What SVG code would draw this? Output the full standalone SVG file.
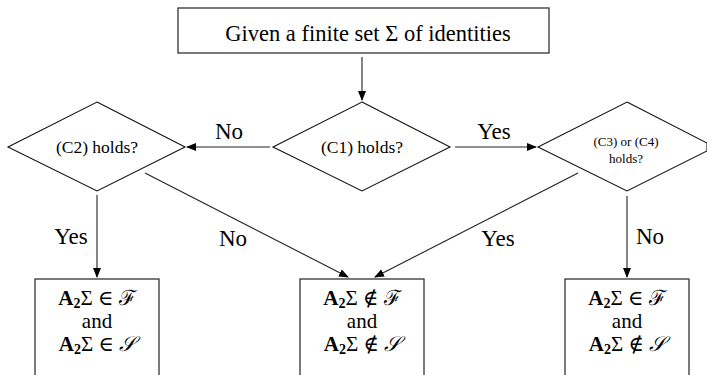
<svg xmlns="http://www.w3.org/2000/svg" width="707" height="375" viewBox="0 0 707 375">
<style>
.box{fill:#fff;stroke:#333;stroke-width:1.3}
.dia{fill:#fff;stroke:#111;stroke-width:1.1}
.conn line{stroke:#222;stroke-width:1.1;marker-end:url(#ah)}
text{font-family:"Liberation Serif","Times New Roman","DejaVu Serif",serif;fill:#000;text-anchor:middle}
.lbl{font-size:23px}
.t{font-size:22.5px}
.d{font-size:17.5px}
.ds{font-size:13px}
.b{font-size:21px}
.sub{font-size:14px;font-weight:bold}
.cal{font-family:"DejaVu Serif","Liberation Serif",serif;font-style:italic}
</style>
<defs>
<marker id="ah" markerWidth="10" markerHeight="8" refX="9" refY="4" orient="auto" markerUnits="userSpaceOnUse">
<path d="M0,0 L10,4 L0,8 Z" fill="#000"/>
</marker>
</defs>
<g id="start">
<rect class="box" x="178" y="8" width="371" height="45"/>
<text class="t" x="368" y="41">Given a finite set Σ of identities</text>
</g>
<g id="c1">
<polygon class="dia" points="362,102 450,147 362,191 273,147"/>
<text class="d" x="362" y="153">(C1) holds?</text>
</g>
<g id="c2">
<polygon class="dia" points="97,102 185,147 97,191 8,147"/>
<text class="d" x="97" y="153">(C2) holds?</text>
</g>
<g id="c3">
<polygon class="dia" points="627,102 707,143 707,151 627,191 538,147"/>
<text class="ds" x="626" y="146"><tspan x="626">(C3) or (C4)</tspan><tspan x="626" dy="17">holds?</tspan></text>
</g>
<g id="r1">
<rect class="box" x="35" y="279" width="124" height="110"/>
<text class="b" x="97" y="305"><tspan font-weight="bold">A</tspan><tspan class="sub" dy="3">2</tspan><tspan dy="-3">Σ ∈ ℱ</tspan><tspan x="97" dy="23">and</tspan><tspan x="97" dy="23" font-weight="bold">A</tspan><tspan class="sub" dy="3">2</tspan><tspan dy="-3">Σ ∈ </tspan><tspan class="cal">𝒮</tspan></text>
</g>
<g id="r2">
<rect class="box" x="300" y="279" width="124" height="110"/>
<text class="b" x="362" y="305"><tspan font-weight="bold">A</tspan><tspan class="sub" dy="3">2</tspan><tspan dy="-3">Σ ∉ ℱ</tspan><tspan x="362" dy="23">and</tspan><tspan x="362" dy="23" font-weight="bold">A</tspan><tspan class="sub" dy="3">2</tspan><tspan dy="-3">Σ ∉ </tspan><tspan class="cal">𝒮</tspan></text>
</g>
<g id="r3">
<rect class="box" x="565" y="279" width="124" height="110"/>
<text class="b" x="627" y="305"><tspan font-weight="bold">A</tspan><tspan class="sub" dy="3">2</tspan><tspan dy="-3">Σ ∈ ℱ</tspan><tspan x="627" dy="23">and</tspan><tspan x="627" dy="23" font-weight="bold">A</tspan><tspan class="sub" dy="3">2</tspan><tspan dy="-3">Σ ∉ </tspan><tspan class="cal">𝒮</tspan></text>
</g>
<g id="connectors" class="conn">
<line x1="362" y1="57" x2="362" y2="100"/>
<line x1="270" y1="147" x2="187" y2="147"/>
<line x1="455" y1="147" x2="536" y2="147"/>
<line x1="97" y1="195" x2="97" y2="277"/>
<line x1="145" y1="173" x2="348" y2="277"/>
<line x1="578" y1="173" x2="375" y2="277"/>
<line x1="627" y1="196" x2="627" y2="277"/>
</g>
<g id="labels">
<text class="lbl" x="229" y="139">No</text>
<text class="lbl" x="494" y="139">Yes</text>
<text class="lbl" x="71" y="244">Yes</text>
<text class="lbl" x="233" y="246">No</text>
<text class="lbl" x="498" y="246">Yes</text>
<text class="lbl" x="650" y="244">No</text>
</g>
</svg>
